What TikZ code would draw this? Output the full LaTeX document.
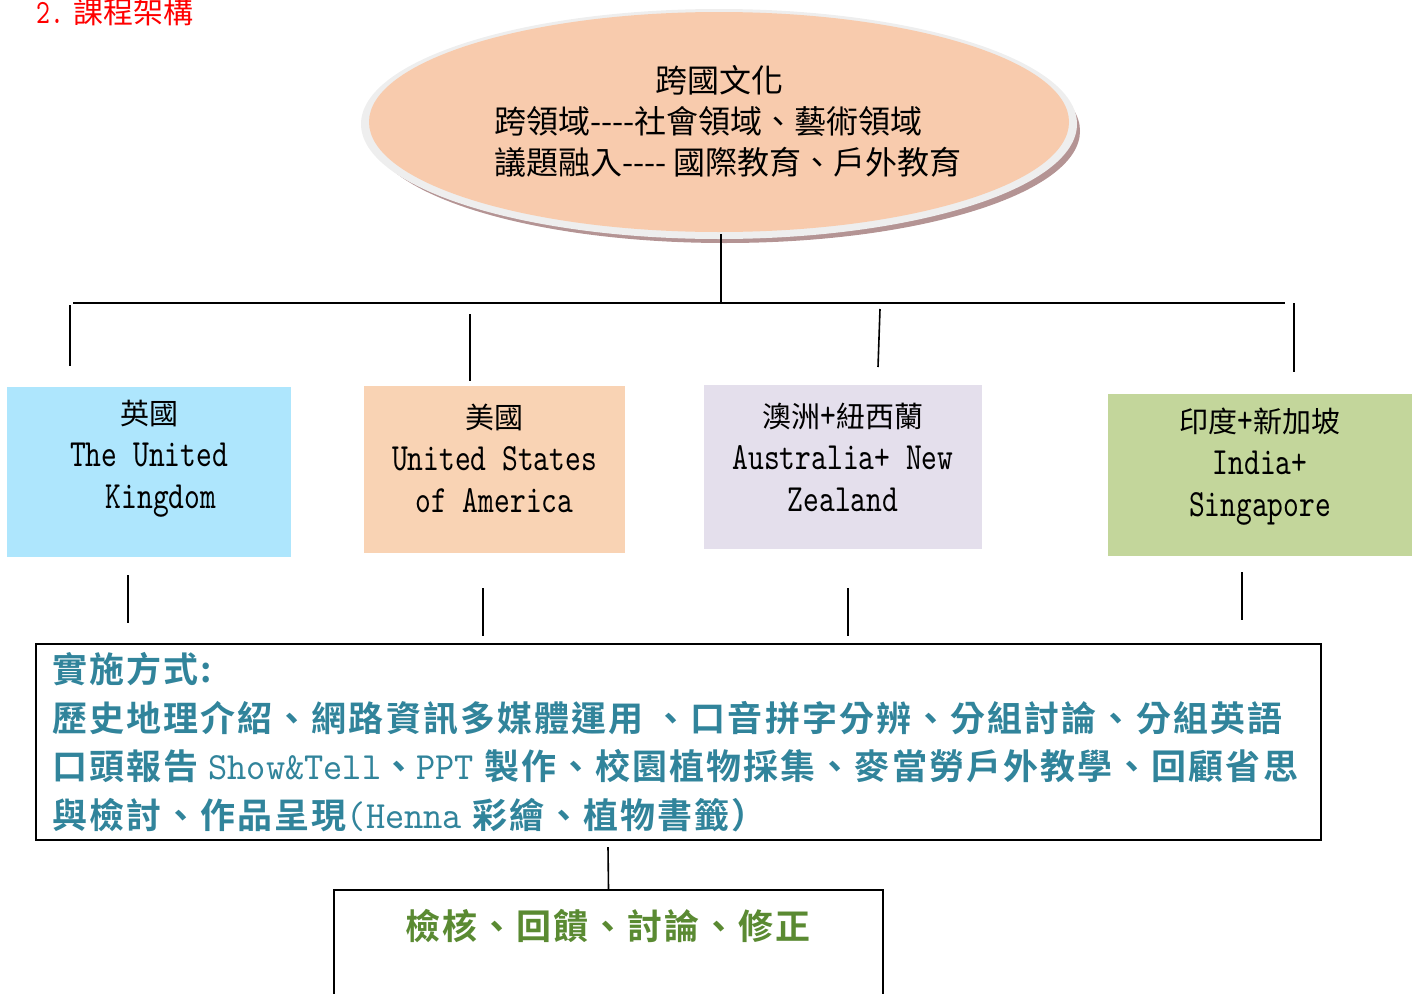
\documentclass[tikz,border=0pt]{standalone}
\usepackage{fontspec}
\usetikzlibrary{shapes.geometric}
\newfontfamily\cjk{Noto Sans CJK TC}
\newfontfamily\cjkb[LetterSpace=6]{Noto Sans CJK TC Bold}
\newfontfamily\engf[FakeStretch=0.78]{lmmono10-regular.otf}
\newfontfamily\engt[FakeStretch=0.95]{lmmono10-regular.otf}
\definecolor{peach}{HTML}{F8CBAD}
\definecolor{rimc}{HTML}{EEEEEE}
\definecolor{shadowc}{HTML}{B49494}
\definecolor{ukc}{HTML}{AEE6FD}
\definecolor{usc}{HTML}{F9D3B4}
\definecolor{auc}{HTML}{E4DFEC}
\definecolor{inc}{HTML}{C3D69B}
\definecolor{tealc}{HTML}{31849B}
\definecolor{greenc}{HTML}{5A8A32}
\tikzset{
  conn/.style={line width=1.6pt, black},
  country/.style={rectangle, inner sep=0pt, draw=none},
  ctext/.style={align=center, inner sep=0pt, font=\fontsize{38}{42}\selectfont},
}
\newcommand{\cjt}[1]{{\cjk\fontsize{29}{42}\selectfont #1}}
\newcommand{\ent}[1]{{\engf\fontsize{38.5}{42}\selectfont #1}}
\newcommand{\tl}[1]{{\engt\fontsize{38.5}{48}\selectfont #1}}
\begin{document}
\begin{tikzpicture}[x=1pt,y=-1pt]
\useasboundingbox (0,0) rectangle (1418,993);
% title
\node[red, anchor=west, inner sep=0pt, font=\cjk\fontsize{30}{32}\selectfont] (title) at (36,12) {{\engf\fontsize{34}{32}\selectfont 2.} 課程架構};
% ellipse
\fill[shadowc] (725,131) ellipse [x radius=355, y radius=112];
\fill[rimc] (719,124) ellipse [x radius=358, y radius=115];
\node[ellipse, fill=peach, minimum width=700pt, minimum height=220pt, inner sep=0pt] (top) at (719,122) {};
\node[anchor=west, align=left, inner sep=0pt, font=\cjk\fontsize{32}{41}\selectfont] (toptext) at (494,121)
  {\hspace*{161pt}跨國文化\\跨領域----社會領域、藝術領域\\議題融入---- 國際教育、戶外教育};
% trunk
\coordinate (t0) at (721,234);
\coordinate (hub) at (721,303);
\coordinate (hl) at (73,303);
\coordinate (hr) at (1285,303);
\draw[conn] (t0) -- (hub);
\draw[conn] (hl) -- (hr);
% upper drops
\coordinate (a1) at (70,305);   \coordinate (b1) at (70,366);
\coordinate (a2) at (470,314);  \coordinate (b2) at (470,381);
\coordinate (a3) at (880,309);  \coordinate (b3) at (878,367);
\coordinate (a4) at (1294,303); \coordinate (b4) at (1294,372);
\draw[conn] (a1) -- (b1);
\draw[conn] (a2) -- (b2);
\draw[conn] (a3) -- (b3);
\draw[conn] (a4) -- (b4);
% country boxes
\node[country, fill=ukc, minimum width=284pt, minimum height=170pt] (uk) at (149,472) {};
\node[country, fill=usc, minimum width=261pt, minimum height=167pt] (us) at (494.5,469.5) {};
\node[country, fill=auc, minimum width=278pt, minimum height=164pt] (au) at (843,467) {};
\node[country, fill=inc, minimum width=304pt, minimum height=162pt] (in) at (1260,475) {};
\node[ctext] (ukt) at (149,459) {\cjt{英國}\\\ent{The United}\\\hspace*{24pt}\ent{Kingdom}};
\node[ctext] (ust) at (494.5,458) {\cjt{美國}\\\ent{United States}\\\ent{of America}};
\node[ctext] (aut) at (843,457) {\cjt{澳洲}\ent{+}\cjt{紐西蘭}\\\ent{Australia+ New}\\\ent{Zealand}};
\node[ctext] (int) at (1260,467) {\cjt{印度}\ent{+}\cjt{新加坡}\\\ent{India+}\\\ent{Singapore}};
% lower drops
\coordinate (c1) at (128,575);  \coordinate (e1) at (128,623);
\coordinate (c2) at (483,588);  \coordinate (e2) at (483,636);
\coordinate (c3) at (848,588);  \coordinate (e3) at (848,636);
\coordinate (c4) at (1242,572); \coordinate (e4) at (1242,620);
\draw[conn] (c1) -- (e1);
\draw[conn] (c2) -- (e2);
\draw[conn] (c3) -- (e3);
\draw[conn] (c4) -- (e4);
% implementation box
\node[draw, line width=2.5pt, minimum width=1285pt, minimum height=196pt, inner sep=0pt] (impl) at (678.5,742) {};
\node[anchor=north west, align=left, inner sep=0pt, text=tealc, font=\cjkb\fontsize{35}{48.7}\selectfont] (impltext) at (52,652)
  {實施方式:\\
   歷史地理介紹、網路資訊多媒體運用 、口音拼字分辨、分組討論、分組英語\\
   口頭報告 \tl{Show\&Tell}、\tl{PPT} 製作、校園植物採集、麥當勞戶外教學、回顧省思\\
   與檢討、作品呈現\tl{(Henna} 彩繪、植物書籤）};
% check box
\coordinate (f0) at (608,847);
\node[draw, line width=2pt, minimum width=549pt, minimum height=160pt, inner sep=0pt] (check) at (608.5,970) {};
\draw[conn] (f0) -- (check.north);
\node[inner sep=0pt, text=greenc, font=\cjkb\fontsize{35}{40}\selectfont] (checktext) at (608,926) {檢核、回饋、討論、修正};
\end{tikzpicture}
\end{document}
